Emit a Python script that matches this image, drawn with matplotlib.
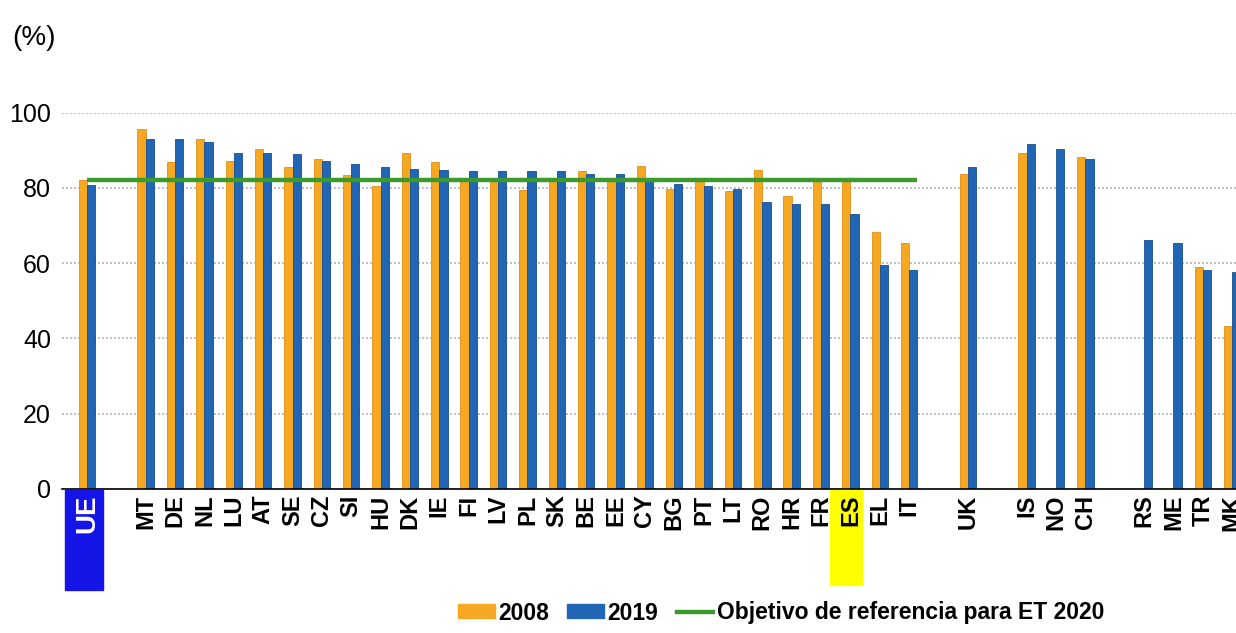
import numpy as np
import matplotlib
matplotlib.use("Agg")
import matplotlib.pyplot as plt
import matplotlib.transforms as mtransforms
from matplotlib.patches import Patch, Rectangle
from matplotlib.lines import Line2D

plt.rcParams['font.family'] = ['Liberation Sans', 'DejaVu Sans']

# None = empty slot between groups
countries = ['UE', None,
             'MT', 'DE', 'NL', 'LU', 'AT', 'SE', 'CZ', 'SI', 'HU', 'DK', 'IE', 'FI',
             'LV', 'PL', 'SK', 'BE', 'EE', 'CY', 'BG', 'PT', 'LT', 'RO', 'HR', 'FR',
             'ES', 'EL', 'IT', None,
             'UK', None,
             'IS', 'NO', 'CH', None,
             'RS', 'ME', 'TR', 'MK']

v2008 = [82.0,
         95.6, 86.9, 93.0, 87.2, 90.3, 85.7, 87.7, 83.5, 80.5, 89.4, 86.9, 82.5,
         82.0, 79.4, 82.3, 84.4, 82.3, 85.8, 79.8, 82.3, 79.2, 84.7, 77.8, 82.5,
         82.5, 68.3, 65.4,
         83.7,
         89.4, np.nan, 88.3,
         np.nan, np.nan, 58.9, 43.4]

v2019 = [80.9,
         93.0, 93.0, 92.1, 89.4, 89.4, 88.9, 87.2, 86.3, 85.7, 85.1, 84.7, 84.6,
         84.4, 84.4, 84.4, 83.8, 83.8, 81.8, 81.0, 80.5, 79.8, 76.3, 75.8, 75.8,
         73.2, 59.4, 58.3,
         85.6,
         91.6, 90.3, 87.7,
         66.2, 65.3, 58.1, 57.6]

benchmark = 82.0
benchmark_span = ('UE', 'IT')

c2008 = '#F7A823'
c2019 = '#2166B5'
cgreen = '#3A9B2C'

pos = np.array([i for i, c in enumerate(countries) if c is not None], dtype=float)
labels = [c for c in countries if c is not None]
a2008 = np.array(v2008)
a2019 = np.array(v2019)

fig = plt.figure(figsize=(12.36, 6.33), dpi=100)
ax = fig.add_axes([62 / 1236, 144 / 633, 1174 / 1236, 376.3 / 633])

w = 0.28
ax.bar(pos - w / 2, a2008, width=w, color=c2008, edgecolor='#E0901A', linewidth=0.6, zorder=2)
ax.bar(pos + w / 2, a2019, width=w, color=c2019, edgecolor='#174F8F', linewidth=0.6, zorder=2)

x0 = pos[labels.index(benchmark_span[0])]
x1 = pos[labels.index(benchmark_span[1])] + w
ax.plot([x0, x1], [benchmark, benchmark], color=cgreen, lw=3.2, zorder=3, solid_capstyle='butt')

ax.set_xlim(-0.85, 39.13)
ax.set_ylim(0, 100)
ax.set_yticks([0, 20, 40, 60, 80, 100])
ax.yaxis.grid(True, linestyle=(0, (1.2, 1.2)), color='#B5B5B5', lw=1.2, zorder=0)
ax.set_axisbelow(True)
for s in ['top', 'right', 'left']:
    ax.spines[s].set_visible(False)
ax.spines['bottom'].set_color('black')
ax.spines['bottom'].set_linewidth(1.2)
ax.tick_params(axis='y', length=0, labelsize=18, pad=8)
ax.tick_params(axis='x', length=0, pad=4)
ax.set_xticks(pos)
ax.set_xticklabels(labels, rotation=90, fontsize=17, fontweight='bold', va='top')

# highlight boxes for UE and ES
trans = mtransforms.blended_transform_factory(ax.transData, ax.transAxes)
for lab in ax.get_xticklabels():
    if lab.get_text() == 'UE':
        lab.set_color('white')
        lab.set_fontsize(20)
ax.add_patch(Rectangle((-0.75, -0.269), 1.3, 0.266, transform=trans, color='#1515E8',
                       clip_on=False, zorder=0))
es = pos[labels.index('ES')]
ax.add_patch(Rectangle((es - 0.69, -0.256), 1.08, 0.253, transform=trans, color='#FFFF00',
                       clip_on=False, zorder=0))

fig.text(12 / 1236, 1 - 38 / 633, '(%)', fontsize=20, va='center', ha='left')

handles = [Patch(color=c2008), Patch(color=c2019), Line2D([], [], color=cgreen, lw=3.2)]
fig.legend(handles, ['2008', '2019', 'Objetivo de referencia para ET 2020'],
           loc='center', bbox_to_anchor=(781 / 1236, 20 / 633), ncol=3, frameon=False,
           prop={'size': 16.5, 'weight': 'bold'}, handlelength=1.6, handleheight=0.55,
           handletextpad=0.15, columnspacing=0.8)

fig.savefig('out.png', dpi=100)
